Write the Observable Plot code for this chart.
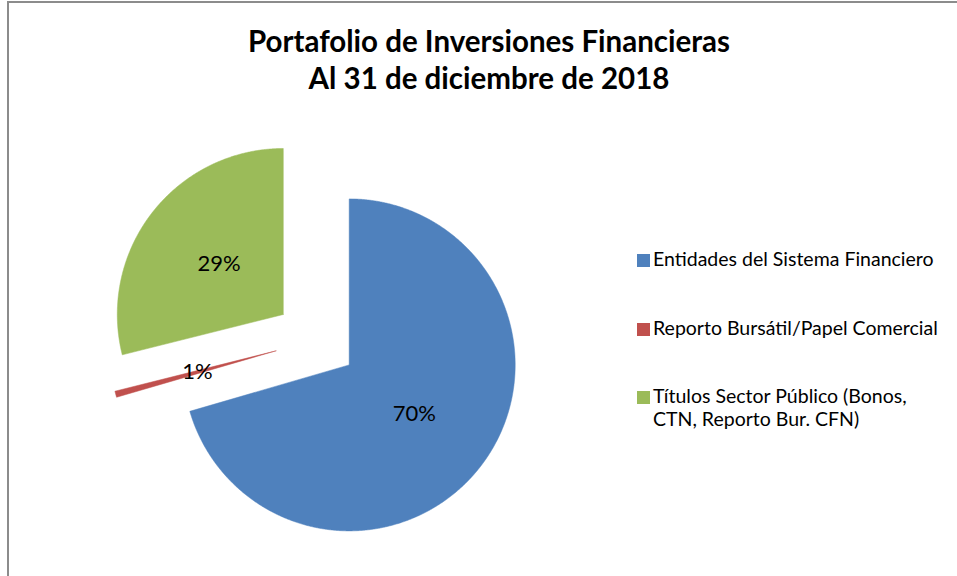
<!DOCTYPE html>
<html><head><meta charset="utf-8">
<script src="https://cdn.jsdelivr.net/npm/d3@7"></script>
<script src="https://cdn.jsdelivr.net/npm/@observablehq/plot@0.6"></script>
<style>
body{margin:0;background:#fff;font-family:Lato,sans-serif;}
#wrap{position:relative;width:957px;height:576px;overflow:hidden;background:#fff;}
#frame{position:absolute;left:7px;top:1px;width:1000px;height:700px;border-left:2px solid #8c8c8c;border-top:2px solid #8c8c8c;}
#chart{position:absolute;left:0;top:0;}
#title{position:absolute;left:7px;width:964px;top:22.1px;text-align:center;font-weight:bold;font-size:29.5px;line-height:37px;color:#000;}
.leg{position:absolute;left:653px;width:300px;font-size:19.5px;line-height:23.7px;color:#000;}
.sw{position:absolute;left:636.5px;width:13px;height:13px;}
</style></head><body>
<div id="wrap"><div id="frame"></div><div id="chart"></div><div id="title"></div></div>
<script>
// ---- data ----
const categories = ["Entidades del Sistema Financiero", "Reporto Bursátil/Papel Comercial", "Títulos Sector Público (Bonos, CTN, Reporto Bur. CFN)"];
const values = [70.49, 0.6, 28.91];
const colors = ["#4F81BD", "#C0504D", "#9BBB59"];
const titleLines = ["Portafolio de Inversiones Financieras", "Al 31 de diciembre de 2018"];

// ---- layout ----
const cx = 315.5, cy = 339.5, R = 166, explode = 0.25;
const arcs = d3.pie().sort(null).value(d => d)(values);
const slices = arcs.map((a, i) => {
  const mid = (a.startAngle + a.endAngle) / 2;
  const ox = explode * Math.sin(mid), oy = explode * Math.cos(mid);
  const n = Math.max(2, Math.ceil((a.endAngle - a.startAngle) / 0.005));
  const pts = [{x: ox, y: oy}];
  for (let k = 0; k <= n; k++) {
    const t = a.startAngle + (a.endAngle - a.startAngle) * k / n;
    pts.push({x: ox + Math.sin(t), y: oy + Math.cos(t)});
  }
  pts.push({x: ox, y: oy});
  return {i, pts, lx: ox + 0.49 * Math.sin(mid), ly: oy + 0.49 * Math.cos(mid), label: Math.round(a.value) + "%"};
});

const chart = Plot.plot({
  width: 957, height: 576, margin: 0,
  style: {fontFamily: "Lato", background: "transparent"},
  x: {domain: [-1, 1], range: [cx - R, cx + R], axis: null},
  y: {domain: [-1, 1], range: [cy + R, cy - R], axis: null},
  marks: [
    ...slices.map(s => Plot.line(s.pts, {x: "x", y: "y", fill: colors[s.i], stroke: colors[s.i], strokeWidth: 0.5})),
    Plot.text(slices, {x: "lx", y: "ly", text: "label", fontSize: 22, fill: "#000"})
  ]
});
document.getElementById("chart").appendChild(chart);

document.getElementById("title").innerHTML = titleLines.join("<br>");

const wrap = document.getElementById("wrap");
const legTops = [247.3, 315.6, 383.6];
const swTops = [254, 322.5, 390.5];
categories.forEach((c, i) => {
  const sw = document.createElement("div");
  sw.className = "sw"; sw.style.top = swTops[i] + "px"; sw.style.background = colors[i];
  wrap.appendChild(sw);
  const t = document.createElement("div");
  t.className = "leg"; t.style.top = legTops[i] + "px"; t.textContent = c;
  wrap.appendChild(t);
});
</script>
</body></html>
